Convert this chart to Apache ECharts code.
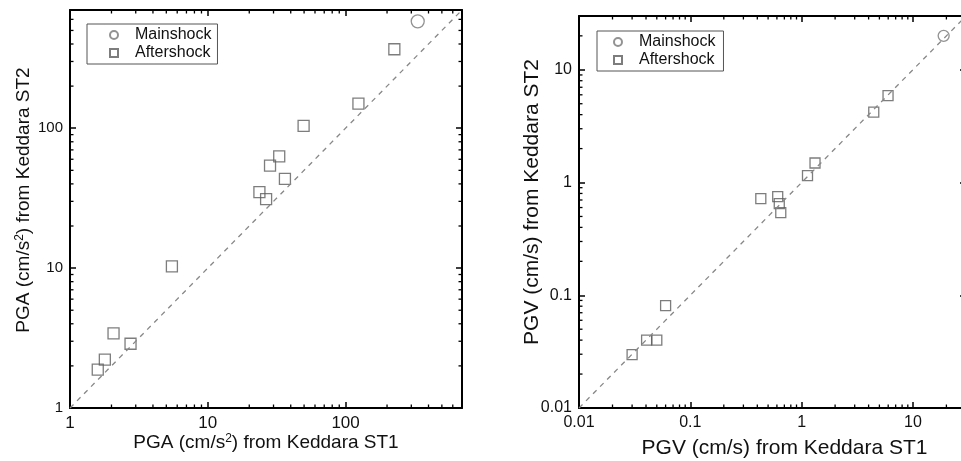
<!DOCTYPE html>
<html>
<head>
<meta charset="utf-8">
<script src="https://cdn.jsdelivr.net/npm/echarts@6/dist/echarts.min.js"></script>
<style>
  html, body { margin: 0; padding: 0; background: #fff; }
  #main { width: 961px; height: 461px; }
</style>
</head>
<body>
<div id="main"></div>
<script>
// PGA (cm/s2), Keddara ST1 vs ST2
var pgaMainST1 = [334];
var pgaMainST2 = [581];
var pgaAfterST1 = [226, 124, 49.6, 33, 28.3, 36.3, 23.7, 26.5, 5.49, 2.07, 2.75, 1.79, 1.59];
var pgaAfterST2 = [367, 150, 104, 63, 54, 43.4, 34.9, 31.1, 10.3, 3.41, 2.88, 2.22, 1.88];

// PGV (cm/s), Keddara ST1 vs ST2
var pgvMainST1 = [18.9];
var pgvMainST2 = [20.0];
var pgvAfterST1 = [5.98, 4.45, 1.32, 1.13, 0.43, 0.61, 0.63, 0.65, 0.060, 0.0405, 0.050, 0.030];
var pgvAfterST2 = [5.9, 4.21, 1.49, 1.15, 0.72, 0.75, 0.65, 0.54, 0.081, 0.040, 0.040, 0.0297];

// axis ranges
var pgaRange = [1, 700];
var pgvRange = [0.01, 30];

var legendNames = ["Mainshock", "Aftershock"];
var fontFamily = "'Liberation Sans', Arial, sans-serif";
var markerColor = "#5c5c5c";
var squareIcon = "path://M0,0H10V10H0Z";

function pairs(xs, ys) {
  return xs.map(function (x, i) { return [x, ys[i]]; });
}

// 1:1 reference line end points
function diagonal(range) {
  return [[range[0], range[0]], [range[1], range[1]]];
}

// minor ticks 2..9 of each decade inside a range
function minorValues(range) {
  var out = [];
  var d = Math.pow(10, Math.floor(Math.log10(range[0])));
  while (d < range[1]) {
    for (var k = 2; k <= 9; k++) {
      var v = +(d * k).toPrecision(6);
      if (v > range[0] && v < range[1]) out.push(v);
    }
    d = d * 10;
  }
  return out;
}

// draws minor ticks on both opposite sides through the axis scales
function minorTickRender(dir, range) {
  return function (params, api) {
    var len = 3.5;
    var style = { stroke: "#000", lineWidth: 1.3 };
    var a, b;
    if (dir === "x") {
      a = api.coord([api.value(0), range[0]]);
      b = api.coord([api.value(0), range[1]]);
      return {
        type: "group",
        children: [
          { type: "line", shape: { x1: a[0], y1: a[1], x2: a[0], y2: a[1] - len }, style: style },
          { type: "line", shape: { x1: b[0], y1: b[1], x2: b[0], y2: b[1] + len }, style: style }
        ]
      };
    }
    a = api.coord([range[0], api.value(1)]);
    b = api.coord([range[1], api.value(1)]);
    return {
      type: "group",
      children: [
        { type: "line", shape: { x1: a[0], y1: a[1], x2: a[0] + len, y2: a[1] }, style: style },
        { type: "line", shape: { x1: b[0], y1: b[1], x2: b[0] - len, y2: b[1] }, style: style }
      ]
    };
  };
}

function logAxis(gridIndex, range, position, name, nameGap, nameSize, labelSize, namePad) {
  return {
    type: "log",
    logBase: 10,
    gridIndex: gridIndex,
    position: position,
    min: range[0],
    max: range[1],
    name: name,
    nameLocation: "middle",
    nameGap: nameGap,
    nameMoveOverlap: false,
    nameTextStyle: {
      color: "#111",
      fontFamily: fontFamily,
      fontSize: nameSize,
      padding: namePad || 0,
      rich: {
        sup: { fontSize: 12, fontFamily: fontFamily, color: "#111", verticalAlign: "top", padding: [0, 0, 8, 0] }
      }
    },
    axisLine: { show: true, onZero: false, lineStyle: { color: "#000", width: 2 } },
    axisTick: { show: true, inside: true, length: 6, lineStyle: { color: "#000", width: 1.5 } },
    axisLabel: {
      show: labelSize > 0,
      margin: 7,
      showMaxLabel: false,
      color: "#111",
      fontFamily: fontFamily,
      fontSize: labelSize || 12
    },
    splitLine: { show: false }
  };
}

function legendBox(left, top, padding) {
  return {
    left: left,
    top: top,
    orient: "vertical",
    data: [{ name: legendNames[0], icon: "circle" }, { name: legendNames[1], icon: squareIcon }],
    itemWidth: 32,
    itemHeight: 8,
    itemGap: 2,
    padding: padding,
    borderColor: "#555",
    borderWidth: 1,
    textStyle: { fontFamily: fontFamily, fontSize: 16, color: "#111" }
  };
}

var chart = echarts.init(document.getElementById("main"));

var option = {
  animation: false,
  backgroundColor: "#fff",
  grid: [
    { left: 70, top: 10, width: 392, height: 398, outerBoundsMode: "none", containLabel: false },
    { left: 579, top: 16, width: 387, height: 392, outerBoundsMode: "none", containLabel: false }
  ],
  legend: [
    legendBox(87, 24, [3, 6, 3, 22]),
    legendBox(597, 31, [3, 8, 3, 16])
  ],
  xAxis: [
    logAxis(0, pgaRange, "bottom", "PGA (cm/s{sup|2}) from Keddara ST1", 25, 19, 17),
    logAxis(0, pgaRange, "top", "", 0, 19, 0),
    logAxis(1, pgvRange, "bottom", "PGV (cm/s) from Keddara ST1", 30, 21, 16, [0, 0, 0, 24]),
    logAxis(1, pgvRange, "top", "", 0, 21, 0)
  ],
  yAxis: [
    logAxis(0, pgaRange, "left", "PGA (cm/s{sup|2}) from Keddara ST2", 36, 19, 15, [0, 0, 0, 18]),
    logAxis(0, pgaRange, "right", "", 0, 19, 0),
    logAxis(1, pgvRange, "left", "PGV (cm/s) from Keddara ST2", 36, 21, 16, [0, 0, 0, 20]),
    logAxis(1, pgvRange, "right", "", 0, 21, 0)
  ],
  series: [
    // left panel: PGA
    {
      type: "line", xAxisIndex: 0, yAxisIndex: 0, silent: true,
      data: diagonal(pgaRange),
      symbol: "none",
      lineStyle: { color: "#888", width: 1.3, type: [5, 5] }
    },
    {
      type: "scatter", name: "Mainshock", xAxisIndex: 0, yAxisIndex: 0,
      data: pairs(pgaMainST1, pgaMainST2),
      symbol: "circle", symbolSize: 13,
      itemStyle: { color: "rgba(0,0,0,0)", borderColor: "#777", borderWidth: 1.3 }
    },
    {
      type: "scatter", name: "Aftershock", xAxisIndex: 0, yAxisIndex: 0,
      data: pairs(pgaAfterST1, pgaAfterST2),
      symbol: "rect", symbolSize: 11,
      itemStyle: { color: "rgba(0,0,0,0)", borderColor: markerColor, borderWidth: 1.3 }
    },
    {
      type: "custom", xAxisIndex: 0, yAxisIndex: 0, silent: true,
      data: minorValues(pgaRange).map(function (v) { return [v, pgaRange[0]]; }),
      renderItem: minorTickRender("x", pgaRange)
    },
    {
      type: "custom", xAxisIndex: 0, yAxisIndex: 0, silent: true,
      data: minorValues(pgaRange).map(function (v) { return [pgaRange[0], v]; }),
      renderItem: minorTickRender("y", pgaRange)
    },
    // right panel: PGV
    {
      type: "line", xAxisIndex: 2, yAxisIndex: 2, silent: true,
      data: diagonal(pgvRange),
      symbol: "none",
      lineStyle: { color: "#888", width: 1.3, type: [5, 5] }
    },
    {
      type: "scatter", name: "Mainshock", xAxisIndex: 2, yAxisIndex: 2,
      data: pairs(pgvMainST1, pgvMainST2),
      symbol: "circle", symbolSize: 11,
      itemStyle: { color: "rgba(0,0,0,0)", borderColor: "#777", borderWidth: 1.3 }
    },
    {
      type: "scatter", name: "Aftershock", xAxisIndex: 2, yAxisIndex: 2,
      data: pairs(pgvAfterST1, pgvAfterST2),
      symbol: "rect", symbolSize: 10,
      itemStyle: { color: "rgba(0,0,0,0)", borderColor: markerColor, borderWidth: 1.3 }
    },
    {
      type: "custom", xAxisIndex: 2, yAxisIndex: 2, silent: true,
      data: minorValues(pgvRange).map(function (v) { return [v, pgvRange[0]]; }),
      renderItem: minorTickRender("x", pgvRange)
    },
    {
      type: "custom", xAxisIndex: 2, yAxisIndex: 2, silent: true,
      data: minorValues(pgvRange).map(function (v) { return [pgvRange[0], v]; }),
      renderItem: minorTickRender("y", pgvRange)
    }
  ]
};

chart.setOption(option);
</script>
</body>
</html>
